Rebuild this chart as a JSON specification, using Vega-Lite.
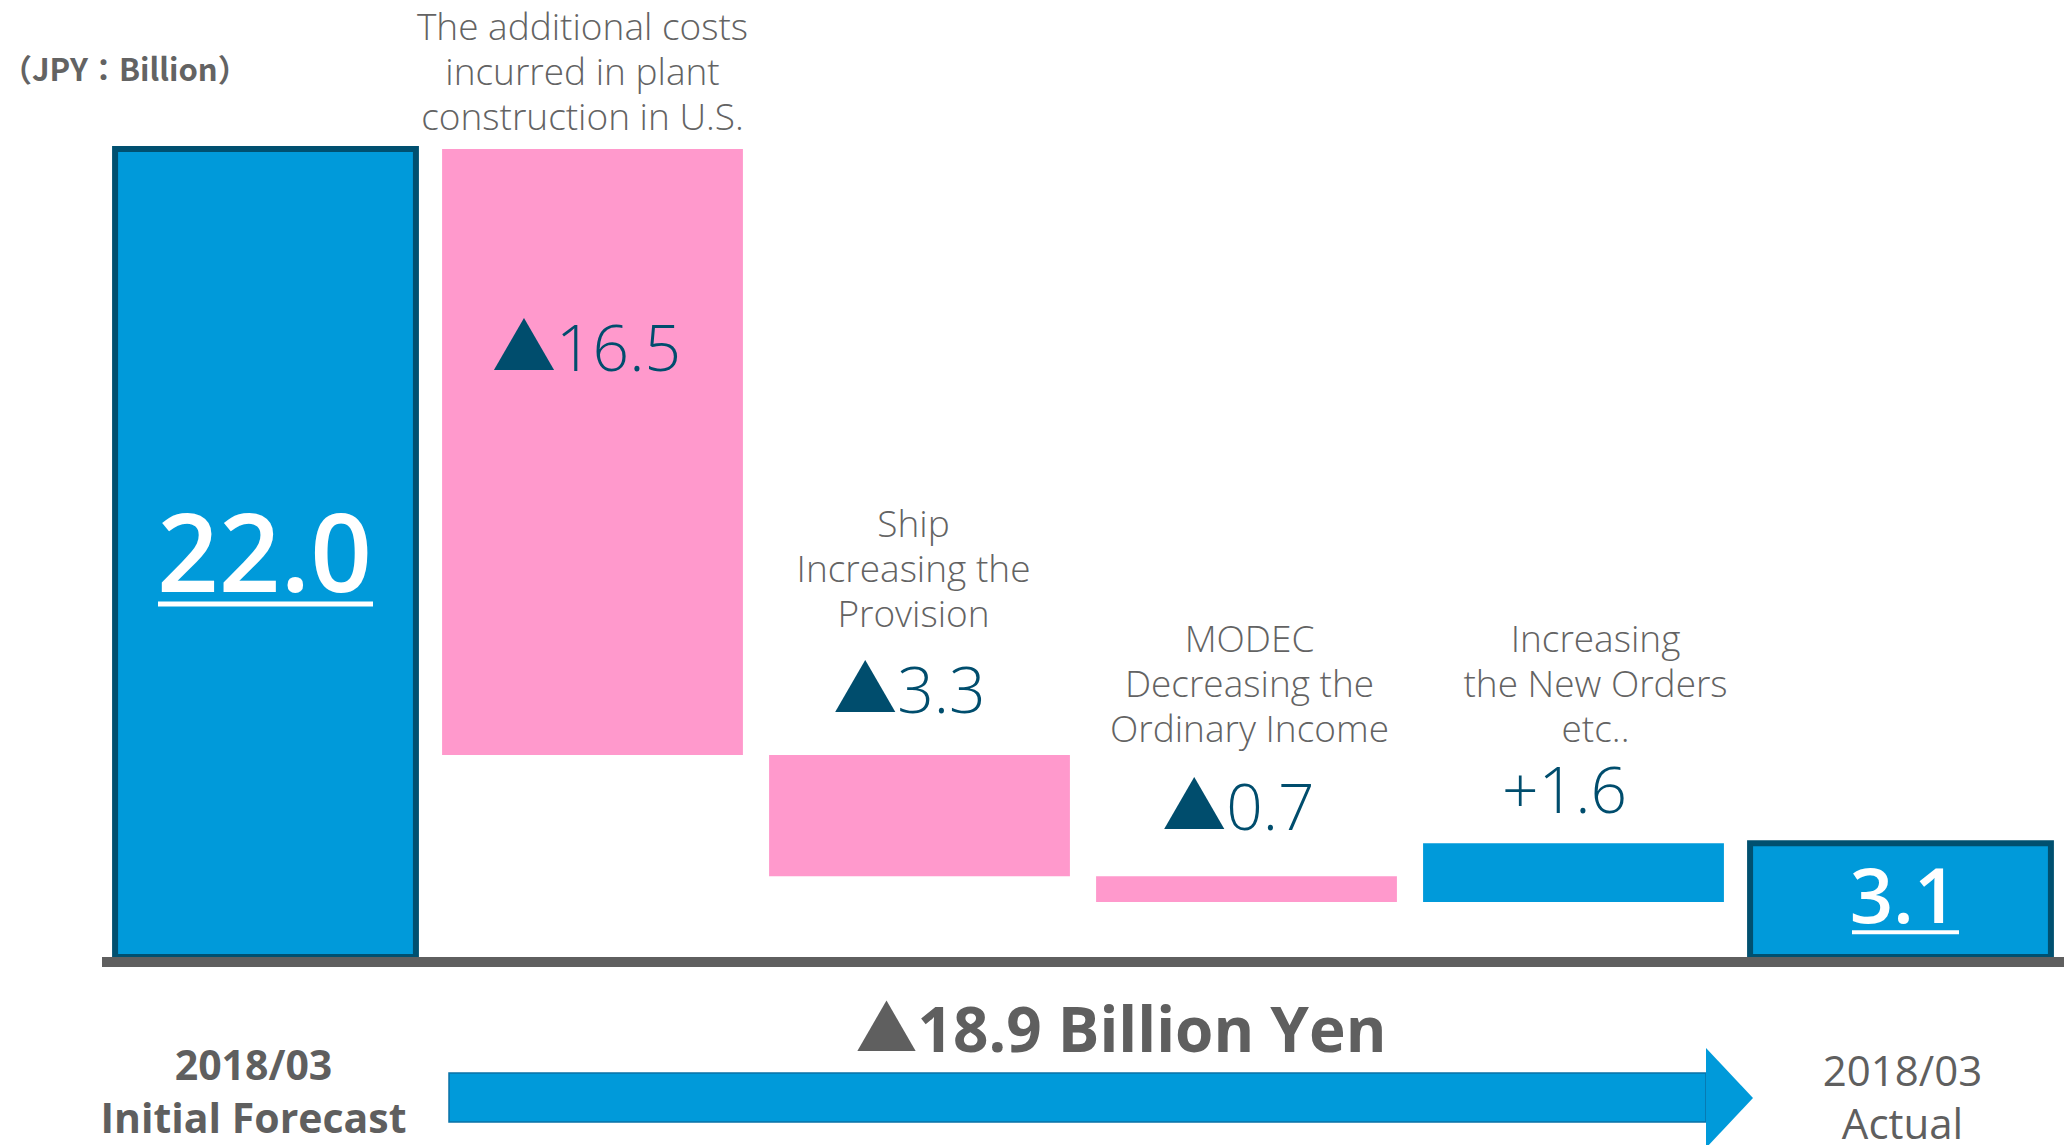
{
  "$schema": "https://vega.github.io/schema/vega-lite/v6.json",
  "width": 2069,
  "height": 1145,
  "autosize": "none",
  "padding": 0,
  "background": "white",
  "config": {"view": {"stroke": null}},
  "datasets": {
    "bars": [
      {"step": "Forecast", "lo": 0, "hi": 22.0, "kind": "total", "value": "22.0", "desc": null, "bottom": ["2018/03", "Initial Forecast"]},
      {"step": "US plant", "lo": 5.5, "hi": 22.0, "kind": "decrease", "value": "▲16.5", "desc": ["The additional costs", "incurred in plant", "construction in U.S."], "bottom": null},
      {"step": "Ship", "lo": 2.2, "hi": 5.5, "kind": "decrease", "value": "▲3.3", "desc": ["Ship", "Increasing the", "Provision"], "bottom": null},
      {"step": "MODEC", "lo": 1.5, "hi": 2.2, "kind": "decrease", "value": "▲0.7", "desc": ["MODEC", "Decreasing the", "Ordinary Income"], "bottom": null},
      {"step": "New Orders", "lo": 1.5, "hi": 3.1, "kind": "increase", "value": "+1.6", "desc": ["Increasing", "the New Orders", "etc.."], "bottom": null},
      {"step": "Actual", "lo": 0, "hi": 3.1, "kind": "total", "value": "3.1", "desc": null, "bottom": ["2018/03", "Actual"]}
    ],
    "meta": [
      {"unit": "（JPY：Billion）", "change": "▲18.9 Billion Yen", "from": 1, "to": 5}
    ]
  },
  "layer": [
    {
      "data": {"name": "bars"},
      "encoding": {
        "x": {
          "field": "step",
          "type": "nominal",
          "sort": null,
          "scale": {"domain": ["Forecast", "US plant", "Ship", "MODEC", "New Orders", "Actual"], "range": [102, 2064], "paddingInner": 0.08, "paddingOuter": 0.04},
          "axis": null
        }
      },
      "layer": [
        {
          "transform": [{"filter": "datum.kind != 'total'"}],
          "mark": {"type": "bar"},
          "encoding": {
            "y": {"field": "hi", "type": "quantitative", "scale": {"domain": [-5.119, 26.057], "nice": false, "zero": false}, "axis": null},
            "y2": {"field": "lo"},
            "color": {"field": "kind", "type": "nominal", "scale": {"domain": ["total", "decrease", "increase"], "range": ["#009ADA", "#FF99CC", "#009ADA"]}, "legend": null}
          }
        },
        {
          "transform": [{"filter": "datum.kind == 'total'"}],
          "mark": {"type": "bar", "fill": "#009ADA", "stroke": "#005070", "strokeWidth": 6},
          "encoding": {
            "y": {"field": "hi", "type": "quantitative", "scale": {"domain": [-5.119, 26.057], "nice": false, "zero": false}, "axis": null},
            "y2": {"field": "lo"}
          }
        },
        {
          "transform": [{"filter": "datum.step == 'US plant'"}],
          "mark": {"type": "text", "font": "Open Sans", "fontWeight": 300, "fontSize": 37, "lineHeight": 45, "color": "#636363", "align": "center", "baseline": "alphabetic", "dx": -10, "dy": -109},
          "encoding": {
            "y": {"field": "hi", "type": "quantitative", "scale": {"domain": [-5.119, 26.057], "nice": false, "zero": false}, "axis": null},
            "text": {"field": "desc"}
          }
        },
        {
          "transform": [{"filter": "datum.step == 'Ship'"}],
          "mark": {"type": "text", "font": "Open Sans", "fontWeight": 300, "fontSize": 37, "lineHeight": 45, "color": "#636363", "align": "center", "baseline": "alphabetic", "dx": -6, "dy": -218},
          "encoding": {
            "y": {"field": "hi", "type": "quantitative", "scale": {"domain": [-5.119, 26.057], "nice": false, "zero": false}, "axis": null},
            "text": {"field": "desc"}
          }
        },
        {
          "transform": [{"filter": "datum.step == 'MODEC'"}],
          "mark": {"type": "text", "font": "Open Sans", "fontWeight": 300, "fontSize": 37, "lineHeight": 45, "color": "#636363", "align": "center", "baseline": "alphabetic", "dx": 3, "dy": -224},
          "encoding": {
            "y": {"field": "hi", "type": "quantitative", "scale": {"domain": [-5.119, 26.057], "nice": false, "zero": false}, "axis": null},
            "text": {"field": "desc"}
          }
        },
        {
          "transform": [{"filter": "datum.step == 'New Orders'"}],
          "mark": {"type": "text", "font": "Open Sans", "fontWeight": 300, "fontSize": 37, "lineHeight": 45, "color": "#636363", "align": "center", "baseline": "alphabetic", "dx": 22, "dy": -191},
          "encoding": {
            "y": {"field": "hi", "type": "quantitative", "scale": {"domain": [-5.119, 26.057], "nice": false, "zero": false}, "axis": null},
            "text": {"field": "desc"}
          }
        },
        {
          "transform": [{"filter": "datum.step == 'US plant'"}],
          "mark": {"type": "text", "font": "Open Sans, Noto Sans CJK JP", "fontWeight": 300, "fontSize": 64, "color": "#004D6D", "align": "center", "baseline": "alphabetic", "dx": -6, "dy": 222},
          "encoding": {
            "y": {"field": "hi", "type": "quantitative", "scale": {"domain": [-5.119, 26.057], "nice": false, "zero": false}, "axis": null},
            "text": {"field": "value"}
          }
        },
        {
          "transform": [{"filter": "datum.step == 'Ship'"}],
          "mark": {"type": "text", "font": "Open Sans, Noto Sans CJK JP", "fontWeight": 300, "fontSize": 64, "color": "#004D6D", "align": "center", "baseline": "alphabetic", "dx": -10, "dy": -42},
          "encoding": {
            "y": {"field": "hi", "type": "quantitative", "scale": {"domain": [-5.119, 26.057], "nice": false, "zero": false}, "axis": null},
            "text": {"field": "value"}
          }
        },
        {
          "transform": [{"filter": "datum.step == 'MODEC'"}],
          "mark": {"type": "text", "font": "Open Sans, Noto Sans CJK JP", "fontWeight": 300, "fontSize": 64, "color": "#004D6D", "align": "center", "baseline": "alphabetic", "dx": -8, "dy": -46},
          "encoding": {
            "y": {"field": "hi", "type": "quantitative", "scale": {"domain": [-5.119, 26.057], "nice": false, "zero": false}, "axis": null},
            "text": {"field": "value"}
          }
        },
        {
          "transform": [{"filter": "datum.step == 'New Orders'"}],
          "mark": {"type": "text", "font": "Open Sans, Noto Sans CJK JP", "fontWeight": 300, "fontSize": 64, "color": "#004D6D", "align": "center", "baseline": "alphabetic", "dx": -9, "dy": -30},
          "encoding": {
            "y": {"field": "hi", "type": "quantitative", "scale": {"domain": [-5.119, 26.057], "nice": false, "zero": false}, "axis": null},
            "text": {"field": "value"}
          }
        },
        {
          "transform": [{"filter": "datum.step == 'Forecast'"}],
          "mark": {"type": "text", "font": "Open Sans", "fontWeight": 600, "fontSize": 108, "color": "white", "align": "center", "baseline": "alphabetic", "dx": -1, "dy": 443},
          "encoding": {
            "y": {"field": "hi", "type": "quantitative", "scale": {"domain": [-5.119, 26.057], "nice": false, "zero": false}, "axis": null},
            "text": {"field": "value"}
          }
        },
        {
          "transform": [{"filter": "datum.step == 'Forecast'"}],
          "mark": {"type": "tick", "color": "white", "opacity": 1, "thickness": 5, "size": 215, "yOffset": 455},
          "encoding": {
            "y": {"field": "hi", "type": "quantitative", "scale": {"domain": [-5.119, 26.057], "nice": false, "zero": false}, "axis": null}
          }
        },
        {
          "transform": [{"filter": "datum.step == 'Actual'"}],
          "mark": {"type": "text", "font": "Open Sans", "fontWeight": 600, "fontSize": 76, "color": "white", "align": "center", "baseline": "alphabetic", "dx": 3, "dy": 80},
          "encoding": {
            "y": {"field": "hi", "type": "quantitative", "scale": {"domain": [-5.119, 26.057], "nice": false, "zero": false}, "axis": null},
            "text": {"field": "value"}
          }
        },
        {
          "transform": [{"filter": "datum.step == 'Actual'"}],
          "mark": {"type": "tick", "color": "white", "opacity": 1, "thickness": 4, "size": 107, "yOffset": 89, "xOffset": 5},
          "encoding": {
            "y": {"field": "hi", "type": "quantitative", "scale": {"domain": [-5.119, 26.057], "nice": false, "zero": false}, "axis": null}
          }
        },
        {
          "transform": [{"filter": "datum.step == 'Forecast'"}],
          "mark": {"type": "text", "font": "Open Sans", "fontWeight": 700, "fontSize": 41, "lineHeight": 53, "color": "#5F5F5F", "align": "center", "baseline": "alphabetic", "dx": -12, "dy": 123},
          "encoding": {
            "y": {"datum": 0, "type": "quantitative", "scale": {"domain": [-5.119, 26.057], "nice": false, "zero": false}, "axis": null},
            "text": {"field": "bottom"}
          }
        },
        {
          "transform": [{"filter": "datum.step == 'Actual'"}],
          "mark": {"type": "text", "font": "Open Sans", "fontWeight": 400, "fontSize": 42, "lineHeight": 53, "color": "#5F5F5F", "align": "center", "baseline": "alphabetic", "dx": 2, "dy": 129},
          "encoding": {
            "y": {"datum": 0, "type": "quantitative", "scale": {"domain": [-5.119, 26.057], "nice": false, "zero": false}, "axis": null},
            "text": {"field": "bottom"}
          }
        }
      ]
    },
    {
      "data": {"name": "meta"},
      "layer": [
        {
          "mark": {"type": "rule", "color": "#5F5F5F", "strokeWidth": 10, "yOffset": 5},
          "encoding": {
            "x": {"datum": 0, "type": "quantitative", "scale": {"domain": [0, 6], "range": [102, 2064], "nice": false, "zero": false}, "axis": null},
            "x2": {"datum": 6},
            "y": {"datum": 0, "type": "quantitative", "scale": {"domain": [-5.119, 26.057], "nice": false, "zero": false}, "axis": null}
          }
        },
        {
          "mark": {"type": "rect", "color": "#009ADA", "stroke": "#0A72A6", "strokeWidth": 1.5, "xOffset": 20, "x2Offset": -31, "yOffset": 116, "y2Offset": 165},
          "encoding": {
            "x": {"field": "from", "type": "quantitative", "scale": {"domain": [0, 6], "range": [102, 2064], "nice": false, "zero": false}, "axis": null},
            "x2": {"field": "to"},
            "y": {"datum": 0, "type": "quantitative", "scale": {"domain": [-5.119, 26.057], "nice": false, "zero": false}, "axis": null},
            "y2": {"datum": 0}
          }
        },
        {
          "mark": {"type": "point", "shape": "M-0.62,-1L0.32,0L-0.62,1Z", "size": 10000, "filled": true, "opacity": 1, "color": "#009ADA", "yOffset": 141},
          "encoding": {
            "x": {"field": "to", "type": "quantitative", "scale": {"domain": [0, 6], "range": [102, 2064], "nice": false, "zero": false}, "axis": null},
            "y": {"datum": 0, "type": "quantitative", "scale": {"domain": [-5.119, 26.057], "nice": false, "zero": false}, "axis": null}
          }
        },
        {
          "mark": {"type": "text", "font": "Open Sans, Noto Sans CJK JP", "fontWeight": 700, "fontSize": 62, "color": "#5F5F5F", "align": "center", "baseline": "alphabetic", "dx": 38, "dy": 95},
          "encoding": {
            "x": {"datum": 3, "type": "quantitative", "scale": {"domain": [0, 6], "range": [102, 2064], "nice": false, "zero": false}, "axis": null},
            "y": {"datum": 0, "type": "quantitative", "scale": {"domain": [-5.119, 26.057], "nice": false, "zero": false}, "axis": null},
            "text": {"field": "change"}
          }
        },
        {
          "mark": {"type": "text", "font": "Noto Sans CJK JP", "fontWeight": 700, "fontSize": 31, "color": "#636363", "align": "left", "baseline": "alphabetic", "dx": -101, "dy": 81},
          "encoding": {
            "x": {"datum": 0, "type": "quantitative", "scale": {"domain": [0, 6], "range": [102, 2064], "nice": false, "zero": false}, "axis": null},
            "y": {"datum": 26.057, "type": "quantitative", "scale": {"domain": [-5.119, 26.057], "nice": false, "zero": false}, "axis": null},
            "text": {"field": "unit"}
          }
        }
      ]
    }
  ],
  "resolve": {"scale": {"x": "independent"}}
}
